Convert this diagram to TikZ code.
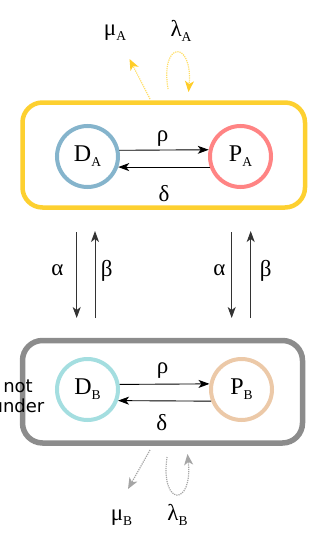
\documentclass[tikz,border=0pt]{standalone}
\usepackage{fontspec}
\setmainfont{Liberation Serif}
\newfontfamily\labsans{DejaVu Sans}
\usetikzlibrary{arrows.meta}
\definecolor{boxyellow}{RGB}{253,208,48}
\definecolor{arryellow}{RGB}{255,222,100}
\definecolor{tipyellow}{RGB}{255,205,40}
\definecolor{boxgrey}{RGB}{140,140,140}
\definecolor{arrgrey}{RGB}{165,165,165}
\definecolor{cDA}{RGB}{133,180,204}
\definecolor{cPA}{RGB}{255,132,132}
\definecolor{cDB}{RGB}{164,222,224}
\definecolor{cPB}{RGB}{236,201,168}
\newcommand{\sublab}[2]{#1\raisebox{-5pt}{\fontsize{13.5}{13.5}\selectfont #2}}
\begin{document}
\begin{tikzpicture}[x=1pt,y=-1pt,
  state/.style={circle, draw, line width=4pt, minimum size=61pt, inner sep=0pt, font=\fontsize{24}{28}\selectfont},
  compbox/.style={draw, rectangle, rounded corners=20pt, inner sep=0pt},
  flow/.style={-{Stealth[length=11pt,width=8pt,inset=3pt]}, line width=0.9pt, black},
  vflow/.style={-{Stealth[length=11pt,width=8pt,inset=3pt]}, line width=1pt, black!80},
  greek/.style={font=\fontsize{23}{27}\selectfont, inner sep=0pt, anchor=base},
  yarr/.style={densely dotted, line width=1.2pt, arryellow, -{Stealth[length=11pt,width=9pt,inset=3pt,color=tipyellow]}},
  garr/.style={densely dotted, line width=1.2pt, arrgrey, -{Stealth[length=11pt,width=9pt,inset=3pt]}},
  sidenote/.style={font=\labsans\fontsize{18}{20}\selectfont, inner sep=0pt, anchor=base}
]
\clip (0,0) rectangle (320,543);
% compartments
\node[compbox, draw=boxyellow, line width=4.5pt, minimum width=282.5pt, minimum height=105pt] (boxA) at (163.75,155) {};
\node[compbox, draw=boxgrey, line width=5.5pt, minimum width=280pt, minimum height=102.5pt] (boxB) at (162.5,391.75) {};
% states
\node[state, draw=cDA] (DA) at (87.5,156.5) {\sublab{D}{A}};
\node[state, draw=cPA] (PA) at (240.5,156.5) {\sublab{P}{A}};
\node[state, draw=cDB] (DB) at (87.5,389.5) {\sublab{D}{B}};
\node[state, draw=cPB] (PB) at (241.5,389.5) {\sublab{P}{B}};
% horizontal flows
\draw[flow] (DA.11.5) -- (PA.168.5);
\draw[flow] (PA.-161) -- (DA.-19);
\draw[flow] (DB.9.7) -- (PB.170.3);
\draw[flow] (PB.-159.3) -- (DB.-20.7);
\node[greek] (rhoA) at (162.5,141.7) {ρ};
\node[greek] (deltaA) at (164,201) {δ};
\node[greek] (rhoB) at (162.7,373) {ρ};
\node[greek] (deltaB) at (161.7,430) {δ};
% vertical flows
\coordinate (aLt) at (76.7,232);
\coordinate (aLb) at (76.7,318);
\coordinate (bLt) at (95,231);
\coordinate (bLb) at (95,318);
\coordinate (aRt) at (231.7,232);
\coordinate (aRb) at (231.7,318);
\coordinate (bRt) at (250.7,231);
\coordinate (bRb) at (250.7,318);
\draw[vflow] (aLt) -- (aLb);
\draw[vflow] (bLb) -- (bLt);
\draw[vflow] (aRt) -- (aRb);
\draw[vflow] (bRb) -- (bRt);
\node[greek] (alphaL) at (57.3,275) {α};
\node[greek] (betaL) at (106.7,276) {β};
\node[greek] (alphaR) at (219.3,275) {α};
\node[greek] (betaR) at (265.7,276) {β};
% top in/out flows
\coordinate (muAs) at (150,99);
\coordinate (muAe) at (129.5,59);
\coordinate (laAs) at (168,89);
\coordinate (laAe) at (188.5,92);
\draw[yarr] (muAs) -- (muAe);
\draw[yarr] (laAs) .. controls (160,40) and (193,40) .. (laAe);
\node[greek] (muA) at (115,36) {\sublab{μ}{A}};
\node[greek] (laA) at (181,37) {\sublab{λ}{A}};
% bottom in/out flows
\coordinate (muBs) at (150,450);
\coordinate (muBe) at (128,489);
\coordinate (laBs) at (167,457);
\coordinate (laBe) at (187.5,454);
\draw[garr] (muBs) -- (muBe);
\draw[garr] (laBs) .. controls (160,507) and (193,507) .. (laBe);
\node[greek] (muB) at (121.5,520) {\sublab{μ}{B}};
\node[greek] (laB) at (177.5,520) {\sublab{λ}{B}};
% side note
\node[sidenote] (note1) at (18,392) {not};
\node[sidenote] (note2) at (18,412) {under};
\end{tikzpicture}
\end{document}
